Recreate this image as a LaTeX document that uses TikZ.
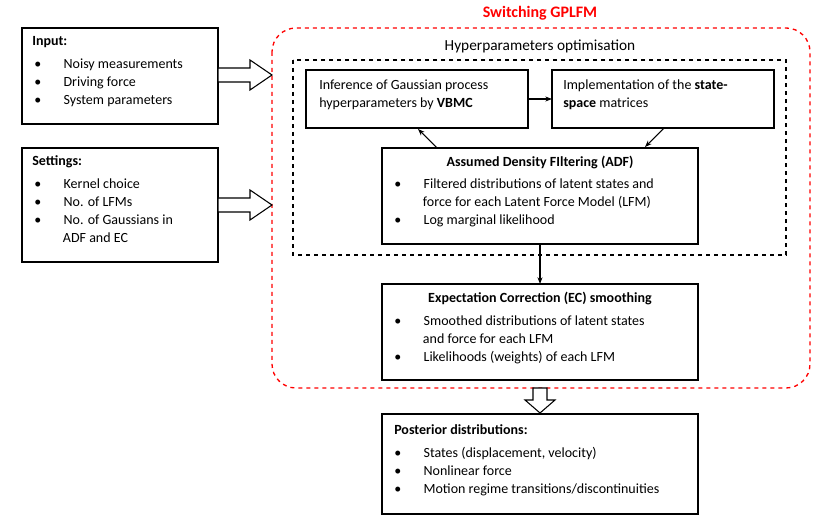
\documentclass[tikz,border=0pt]{standalone}
\usepackage{fontspec}
\setmainfont{Carlito}
\usetikzlibrary{arrows.meta,shapes.arrows}
\begin{document}
\begin{tikzpicture}[x=0.75pt,y=-0.75pt,
  box/.style={draw,line width=1pt},
  txt/.style={anchor=north west,align=left,font=\fontsize{10.5}{13.5}\selectfont,inner sep=0pt},
  hd/.style={font=\fontsize{10.5}{13}\selectfont\bfseries,inner sep=0pt},
  arr/.style={-{Stealth[length=5pt]},line width=0.8pt},
  fat/.style={draw,line width=0.8pt,fill=white}]
\useasboundingbox (0,0) rectangle (831,523);
\draw[red,dashed,line width=1pt,rounded corners=18pt] (272,28) rectangle (810,388);
\node[red,font=\fontsize{12}{14}\selectfont\bfseries] (t1) at (540,13) {Switching GPLFM};
\draw[dashed,line width=0.8pt] (293,60) rectangle (786,255);
\node[font=\fontsize{11.5}{14}\selectfont] (t2) at (540,46) {Hyperparameters optimisation};
% input
\draw[box] (22,28) rectangle (218,124);
\node[hd,anchor=west] (inh) at (32,42) {Input:};
\node[txt] (inl) at (34,59) {•\hspace{1.6em}Noisy measurements\\•\hspace{1.6em}Driving force\\•\hspace{1.6em}System parameters};
\draw[box] (22,148) rectangle (218,262);
\node[hd,anchor=west] (seh) at (32,162) {Settings:};
\node[txt] (sel) at (34,179) {•\hspace{1.6em}Kernel choice\\•\hspace{1.6em}No. of LFMs\\•\hspace{1.6em}No. of Gaussians in\\\hspace{2.05em}ADF and EC};
% fat arrows
\draw[fat] (218,68)--(250,68)--(250,60)--(272,75)--(250,90)--(250,82)--(218,82)--cycle;
\draw[fat] (218,198)--(250,198)--(250,190)--(272,205)--(250,220)--(250,212)--(218,212)--cycle;
\draw[fat] (533,388)--(547,388)--(547,400)--(555,400)--(540,413)--(525,400)--(533,400)--cycle;
% inner boxes
\draw[box] (306,70) rectangle (528,128) coordinate (infc);
\node[txt] (inf) at (319,80) {Inference of Gaussian process\\hyperparameters by \textbf{VBMC}};
\draw[box] (552,70) rectangle (774,128);
\node[txt] (imp) at (563,80) {Implementation of the \textbf{state-}\\\textbf{space} matrices};
\draw[box] (382,148) rectangle (698,244);
\node[hd] (adfh) at (540,162) {Assumed Density FIltering (ADF)};
\node[txt] (adfl) at (394,179) {•\hspace{1.6em}Filtered distributions of latent states and\\\hspace{2.05em}force for each Latent Force Model (LFM)\\•\hspace{1.6em}Log marginal likelihood};
\draw[box] (382,284) rectangle (698,380);
\node[hd] (ech) at (540,298) {Expectation Correction (EC) smoothing};
\node[txt] (ecl) at (394,316) {•\hspace{1.6em}Smoothed distributions of latent states\\\hspace{2.05em}and force for each LFM\\•\hspace{1.6em}Likelihoods (weights) of each LFM};
\draw[box] (382,414) rectangle (698,514);
\node[hd,anchor=west] (poh) at (394,430) {Posterior distributions:};
\node[txt] (pol) at (394,447) {•\hspace{1.6em}States (displacement, velocity)\\•\hspace{1.6em}Nonlinear force\\•\hspace{1.6em}Motion regime transitions/discontinuities};
% connectors
\draw[arr] (528,99) -- (552,99);
\draw[arr] (437,148) -- (418,129);
\draw[arr] (664,128) -- (645,147);
\draw[arr] (540,244) -- (540,284);
\end{tikzpicture}
\end{document}
